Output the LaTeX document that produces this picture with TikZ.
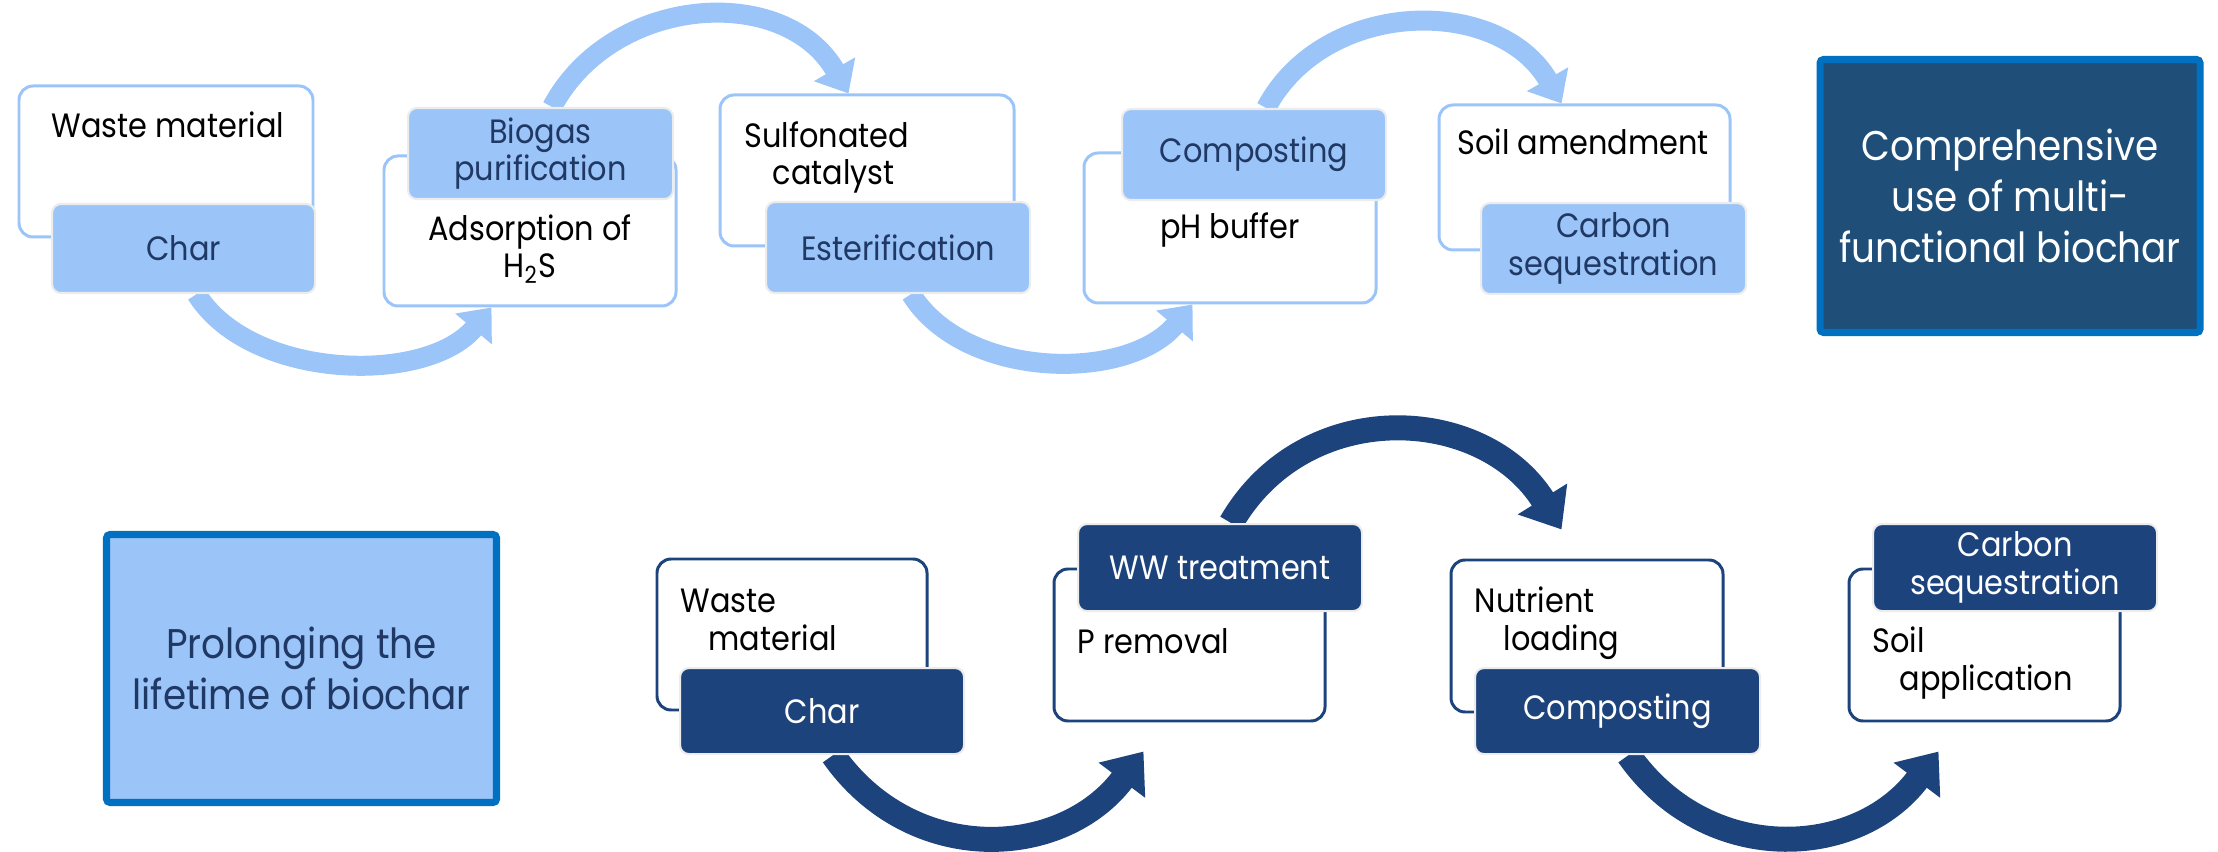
\documentclass[tikz,border=0pt]{standalone}
\usepackage{fontspec}
\setmainfont{Poppins}[FakeStretch=0.9]
\usetikzlibrary{arrows.meta,backgrounds}
\definecolor{pale}{RGB}{155,196,248}
\definecolor{navy}{RGB}{31,56,100}
\definecolor{deep}{RGB}{29,67,124}
\definecolor{steel}{RGB}{31,78,121}
\definecolor{vivid}{RGB}{0,112,192}

\begin{document}
\begin{tikzpicture}[txt/.style={font=\fontsize{9.6}{10.8}\selectfont,inner sep=0pt},
  shell/.style={draw=pale,line width=0.85pt,fill=white,rounded corners=4pt,anchor=north west,inner sep=0pt},
  dshell/.style={shell,draw=deep},
  tab/.style={txt,fill=pale,draw=white!85!gray,line width=0.6pt,rounded corners=2.5pt,anchor=north west,text=navy,align=center},
  dtab/.style={tab,fill=deep,text=white},
  title/.style={draw=vivid,line width=2pt,rounded corners=1pt,align=center,font=\fontsize{11.8}{14.5}\selectfont},
  flow/.style={pale,line width=0.2cm,-{Triangle[length=0.28cm,width=0.46cm]}},
  dflow/.style={deep,line width=0.25cm,-{Triangle[length=0.36cm,width=0.56cm]}}]
  \useasboundingbox (0,0) rectangle (22.18,-8.52);

  % upper chain
  \node[shell,minimum width=2.94cm,minimum height=1.51cm] (u1) at (0.175,-0.845) {};
  \node[tab,minimum width=2.63cm,minimum height=0.89cm] (ut1) at (0.51,-2.03) {Char};
  \node[txt,anchor=base west] (ux1) at (0.51,-1.38) {Waste material};

  \node[shell,minimum width=2.92cm,minimum height=1.50cm] (u2) at (3.825,-1.545) {};
  \node[tab,minimum width=2.65cm,minimum height=0.91cm] (ut2) at (4.07,-1.07) {Biogas\\purification};
  \node[txt,align=center,anchor=base] (ux2) at (5.30,-2.78) {Adsorption of\\H\textsubscript{2}S};

  \node[shell,minimum width=2.94cm,minimum height=1.51cm] (u3) at (7.185,-0.935) {};
  \node[tab,minimum width=2.64cm,minimum height=0.91cm] (ut3) at (7.65,-2.01) {Esterification};
  \node[txt,anchor=base west,align=left] (ux3) at (7.44,-1.85) {Sulfonated\\\hspace*{0.28cm}catalyst};

  \node[shell,minimum width=2.92cm,minimum height=1.50cm] (u4) at (10.825,-1.515) {};
  \node[tab,minimum width=2.64cm,minimum height=0.91cm] (ut4) at (11.21,-1.08) {Composting};
  \node[txt,anchor=base] (ux4) at (12.30,-2.39) {pH buffer};

  \node[shell,minimum width=2.91cm,minimum height=1.45cm] (u5) at (14.375,-1.035) {};
  \node[tab,minimum width=2.65cm,minimum height=0.91cm] (ut5) at (14.80,-2.02) {Carbon\\sequestration};
  \node[txt,anchor=base] (ux5) at (15.83,-1.55) {Soil amendment};

  \node[title,fill=steel,text=white,minimum width=3.80cm,minimum height=2.73cm] (comp) at (20.10,-1.96) {Comprehensive\\use of multi-\\functional biochar};

  % lower chain
  \node[title,fill=pale,text=navy,minimum width=3.90cm,minimum height=2.68cm] (prol) at (3.015,-6.685) {Prolonging the\\lifetime of biochar};

  \node[dshell,minimum width=2.70cm,minimum height=1.51cm] (d1) at (6.555,-5.575) {};
  \node[dtab,minimum width=2.84cm,minimum height=0.86cm] (dt1) at (6.79,-6.67) {Char};
  \node[txt,anchor=base west,align=left] (dx1) at (6.80,-6.50) {Waste\\\hspace*{0.28cm}material};

  \node[dshell,minimum width=2.71cm,minimum height=1.52cm] (d2) at (10.525,-5.675) {};
  \node[dtab,minimum width=2.84cm,minimum height=0.87cm] (dt2) at (10.77,-5.23) {WW treatment};
  \node[txt,anchor=base west] (dx2) at (10.77,-6.53) {P removal};

  \node[dshell,minimum width=2.72cm,minimum height=1.52cm] (d3) at (14.495,-5.585) {};
  \node[dtab,minimum width=2.85cm,minimum height=0.86cm] (dt3) at (14.74,-6.67) {Composting};
  \node[txt,anchor=base west,align=left] (dx3) at (14.74,-6.50) {Nutrient\\\hspace*{0.29cm}loading};

  \node[dshell,minimum width=2.71cm,minimum height=1.52cm] (d4) at (18.475,-5.675) {};
  \node[dtab,minimum width=2.84cm,minimum height=0.87cm] (dt4) at (18.72,-5.23) {Carbon\\sequestration};
  \node[txt,anchor=base west,align=left] (dx4) at (18.72,-6.90) {Soil\\\hspace*{0.27cm}application};

  \begin{scope}[on background layer]
    \draw[flow] ([xshift=0.13cm]ut1.south) to[out=-58,in=-130,looseness=0.88] ([xshift=1.09cm]u2.south west);
    \draw[flow] ([xshift=0.115cm]ut2.north) to[out=62,in=120,looseness=1.1] ([xshift=1.30cm]u3.north west);
    \draw[flow] ([xshift=0.13cm]ut3.south) to[out=-58,in=-130,looseness=0.92] ([xshift=1.10cm]u4.south west);
    \draw[flow] ([xshift=0.12cm]ut4.north) to[out=62,in=120,looseness=1.08] ([xshift=1.24cm]u5.north west);
    \draw[dflow] ([xshift=0.11cm]dt1.south) to[out=-55,in=-127,looseness=1.12] ([shift={(0.91,-0.29)}]d2.south west);
    \draw[dflow] ([xshift=0.11cm]dt2.north) to[out=60,in=122,looseness=1.14] ([shift={(1.12,0.29)}]d3.north west);
    \draw[dflow] ([xshift=0.11cm]dt3.south) to[out=-55,in=-127,looseness=1.12] ([shift={(0.91,-0.29)}]d4.south west);
  \end{scope}
\end{tikzpicture}
\end{document}
